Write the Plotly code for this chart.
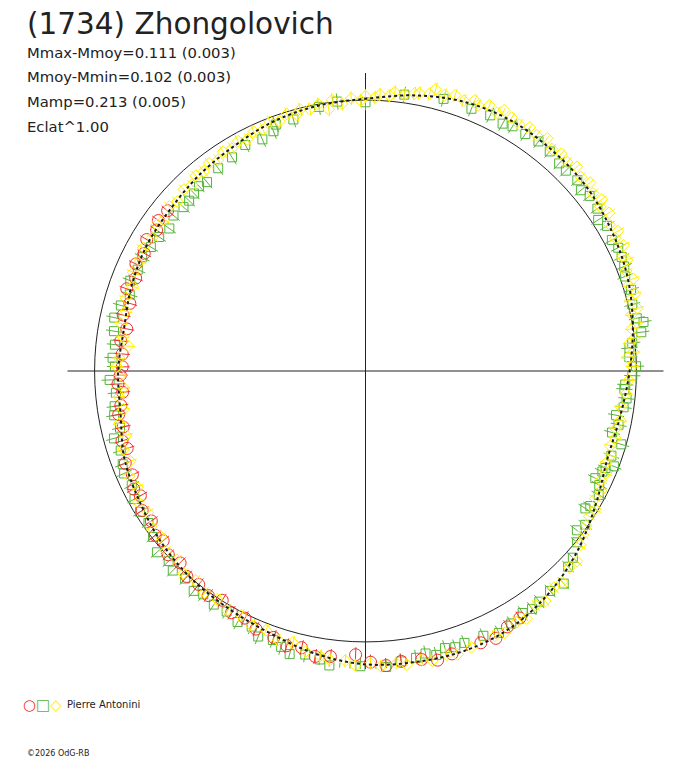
"""
Polar lightcurve of (1734) Zhongolovich, rebuilt with Plotly.
"""
import plotly.graph_objects as go

# page body has an 8px margin, so the figure is drawn inside it
PAD = 8
W, H = 688 - 2 * PAD, 768 - 2 * PAD

# fitted curve: phase angle (deg) and relative flux (1 = mean)
FIT_THETA = [0, 10, 20, 30, 40, 50, 60, 70, 80, 90, 100, 110, 120, 130, 140, 150, 160, 170,
             180, 190, 200, 210, 220, 230, 240, 250, 260, 270, 280, 290, 300, 310, 320, 330,
             340, 350, 360]
FIT_FLUX = [0.975, 1.002, 1.028, 1.046, 1.062, 1.067, 1.069, 1.058, 1.033, 1.005, 0.995, 0.982,
            0.962, 0.949, 0.936, 0.931, 0.919, 0.905, 0.913, 0.918, 0.947, 0.963, 0.984, 1.000,
            1.012, 1.030, 1.060, 1.083, 1.090, 1.096, 1.088, 1.062, 1.025, 0.982, 0.950, 0.955,
            0.975]

# session 1 (red circles)
RED_THETA = [141, 144, 146, 149, 152, 155, 158, 161, 164, 167, 170, 173, 176, 179,
             181, 183, 185, 188, 190, 193, 196, 198, 201, 204, 207, 209, 212, 215,
             218, 220, 223, 226, 229, 232, 235, 238, 241, 244, 247,
             251, 254, 257, 260, 263, 268, 271, 274, 277, 281, 284, 287, 290, 293, 296, 299, 302]
RED_FLUX = [0.940, 0.945, 0.930, 0.942, 0.925, 0.935, 0.915, 0.932, 0.905, 0.918, 0.895, 0.910, 0.900, 0.898,
            0.905, 0.915, 0.900, 0.912, 0.925, 0.918, 0.935, 0.925, 0.950, 0.942, 0.960, 0.950, 0.972, 0.965,
            0.985, 0.975, 0.995, 0.985, 1.005, 1.000, 1.012, 0.998, 1.020, 1.015, 1.035,
            1.040, 1.055, 1.048, 1.070, 1.062, 1.048, 1.075, 1.090, 1.080, 1.085, 1.100, 1.092, 1.105,
            1.090, 1.098, 1.080, 1.075]

# session 2 (green squares)
GREEN_THETA = [1, 3, 5, 6, 8, 10, 11, 14, 17, 20, 22, 24, 26, 28, 31, 33, 35, 38, 40, 42, 45, 47,
               50, 53, 56, 59, 61, 64, 68,
               74, 82, 90, 96, 100, 106, 110, 111, 114, 118, 122, 126,
               130, 132, 134, 136, 138, 141, 144, 147, 150, 153, 156, 159, 162, 165, 168, 171, 174,
               177, 179,
               182, 185, 188, 190, 193, 195, 198, 201, 203, 206, 209, 212, 215, 218, 221, 224, 226,
               229, 232, 234, 237, 240, 243, 246, 248,
               251, 253, 255, 258, 261, 263, 265, 267, 269, 272, 274, 277, 280, 282, 284, 286, 288,
               290, 294, 297, 300, 303, 305, 307, 310, 313, 316,
               318, 321, 323, 325, 328, 329, 332, 334, 335, 337, 338, 339, 341, 344, 346, 348, 350,
               352, 354, 356, 357, 359]
GREEN_FLUX = [0.999, 0.975, 0.978, 0.990, 1.028, 1.042, 1.020, 1.015, 1.025, 1.020, 1.030, 1.035,
              1.038, 1.030, 1.040, 1.024, 1.045, 1.050, 1.038, 1.052, 1.046, 1.048,
              1.058, 1.061, 1.055, 1.054, 1.044, 1.050, 1.044,
              1.045, 1.030, 0.992, 1.000, 0.990, 0.966, 0.968, 0.948, 0.936, 0.945, 0.930, 0.925,
              0.910, 0.918, 0.911, 0.905, 0.904, 0.912, 0.895, 0.908, 0.915, 0.925, 0.920, 0.930,
              0.915, 0.935, 0.948, 0.940, 0.930, 0.935, 0.925,
              0.945, 0.925, 0.935, 0.942, 0.930, 0.961, 0.950, 0.960, 0.968, 0.960, 0.975, 0.981,
              0.978, 0.995, 1.020, 1.010, 1.024, 1.015, 1.030, 1.019, 1.028, 1.025, 1.040, 1.033, 1.057,
              1.050, 1.065, 1.082, 1.070, 1.078, 1.095, 1.111, 1.102, 1.090, 1.114, 1.095, 1.080,
              1.075, 1.066, 1.080, 1.064, 1.072, 1.068, 1.070, 1.085, 1.076, 1.065, 1.072, 1.066,
              1.060, 1.073, 1.040,
              1.030, 1.005, 0.977, 0.990, 0.957, 0.968, 0.975, 0.960, 0.936, 0.950, 0.956, 0.982,
              0.960, 0.982, 0.938, 0.955, 0.939, 0.962, 0.969, 0.958, 0.960, 0.985]

# session 3 (yellow diamonds)
YELLOW_THETA = [1, 3, 4, 6, 7, 9, 10, 12, 13, 15, 16, 18, 19, 21, 23, 24, 26, 28, 29, 31, 33, 35,
                36, 38, 40, 42, 44, 46, 48, 50, 52, 54, 56, 58, 60,
                62, 63, 65, 67, 68, 70, 72, 74, 76, 77, 79, 80, 82, 84, 85, 87, 88, 90, 91, 93, 95,
                97, 98, 100, 102, 104, 105, 107, 109, 111, 113, 115, 117, 119, 121,
                123, 125, 127, 129, 131, 133, 135, 138, 140, 143, 145, 148, 151, 154, 157, 160, 163,
                166, 169, 172, 174, 177, 179,
                181, 184, 186, 189, 192, 195, 198, 201, 204, 207, 210, 213, 216, 219, 222, 225, 228,
                231, 234, 237, 240, 243, 246, 249,
                252, 255, 258, 261, 263, 266, 268, 271, 273, 276, 278, 281, 283, 286, 288, 291, 293,
                296, 298, 301, 303, 306, 308, 311, 313, 316, 318,
                321, 323, 325, 327, 329, 331, 333, 335, 337, 339, 341, 343, 345, 347, 349, 352, 355, 358]
YELLOW_FLUX = [0.985, 0.970, 0.992, 0.980, 1.000, 0.995, 1.015, 1.005, 1.030, 1.012, 1.035, 1.022,
               1.045, 1.030, 1.050, 1.038, 1.060, 1.045, 1.065, 1.050, 1.072, 1.058,
               1.078, 1.065, 1.082, 1.070, 1.085, 1.072, 1.080, 1.070, 1.090, 1.075, 1.085, 1.072, 1.080,
               1.090, 1.070, 1.082, 1.065, 1.078, 1.062, 1.070, 1.060, 1.072, 1.050, 1.045, 1.040,
               1.030, 1.035, 1.020, 1.022, 1.010, 1.015, 0.998, 1.008, 0.990,
               1.008, 0.975, 1.000, 0.988, 0.995, 0.980, 0.992, 0.975, 0.985, 0.968, 0.975, 0.960,
               0.970, 0.958,
               0.965, 0.950, 0.960, 0.948, 0.955, 0.940, 0.948, 0.935, 0.945, 0.930, 0.940, 0.928,
               0.938, 0.925, 0.932, 0.915, 0.925, 0.912, 0.920, 0.905, 0.880, 0.910, 0.918,
               0.905, 0.895, 0.915, 0.905, 0.928, 0.915, 0.940, 0.930, 0.955, 0.945, 0.968, 0.958,
               0.978, 0.972, 0.992, 0.985, 1.005, 0.995, 1.012, 1.005, 1.020, 1.012, 1.030, 1.025,
               1.045, 1.038, 1.058, 1.065, 1.075, 1.072, 1.088, 1.080, 1.092, 1.085, 1.095, 1.088,
               1.098, 1.090, 1.100, 1.092, 1.102, 1.088, 1.095, 1.082, 1.090, 1.070, 1.078, 1.060,
               1.065, 1.045, 1.050,
               1.020, 1.005, 0.995, 0.985, 0.990, 0.970, 0.975, 0.958, 0.965, 0.950, 0.958, 0.945,
               0.955, 0.948, 0.958, 0.952, 0.965, 0.972]

ERR_RED = 0.028
ERR_GREEN = 0.03
ERR_YELLOW = 0.025

TITLE = '(1734) Zhongolovich'
STATS = ['Mmax-Mmoy=0.111 (0.003)', 'Mmoy-Mmin=0.102 (0.003)',
         'Mamp=0.213 (0.005)', 'Eclat^1.00']
OBSERVER = 'Pierre Antonini'
CREDIT = '©2026 OdG-RB'

RED, GREEN, YELLOW = '#f03030', '#55b43c', '#ffee00'
FONT = 'DejaVu Sans'


def _paper(x, y):
    # window pixels -> paper fraction
    return (x - PAD) / W, 1 - (y - PAD) / H


def _err_segments(theta, flux, err):
    t, r = [], []
    for a, f in zip(theta, flux):
        t += [a, a, None]
        r += [f - err, f + err, None]
    return t, r


def _series(theta, flux, err, color, symbol, size):
    et, er = _err_segments(theta, flux, err)
    bars = go.Scatterpolar(theta=et, r=er, mode='lines', line=dict(color=color, width=1),
                           showlegend=False, hoverinfo='skip')
    pts = go.Scatterpolar(theta=theta, r=flux, mode='markers', showlegend=False,
                          marker=dict(symbol=symbol, size=size, color=color,
                                      line=dict(color=color, width=1)))
    return [bars, pts]


def _text(x, y, text, size, color='#222', yanchor='middle'):
    px, py = _paper(x, y)
    return dict(x=px, y=py, xref='paper', yref='paper', xanchor='left', yanchor=yanchor,
                text=text, showarrow=False, font=dict(family=FONT, size=size, color=color))


fig = go.Figure()
for trace in (_series(GREEN_THETA, GREEN_FLUX, ERR_GREEN, GREEN, 'square-open', 9)
              + _series(RED_THETA, RED_FLUX, ERR_RED, RED, 'circle-open', 12)
              + _series(YELLOW_THETA, YELLOW_FLUX, ERR_YELLOW, YELLOW, 'diamond-open', 9)):
    fig.add_trace(trace)

fig.add_trace(go.Scatterpolar(
    theta=FIT_THETA, r=FIT_FLUX, mode='lines', showlegend=False,
    line=dict(color='#1a1a1a', width=2, dash='dot', shape='spline'),
))

annotations = [_text(25, 23.5, TITLE, 29.5)]
for i, line in enumerate(STATS):
    annotations.append(_text(25, 52 + 24.7 * i, line, 14.8))
legend_keys = (f"<span style='color:{RED}'>○</span><span style='color:{GREEN}'>□</span>"
               f"<span style='color:{YELLOW}'>◇</span>")
annotations.append(_text(21, 704.5, legend_keys, 15))
annotations.append(_text(65, 704.5, OBSERVER, 10))
# figure ends at 760px, keep the credit line inside it
annotations.append(_text(25, 760, CREDIT, 8, yanchor='bottom'))

x0, y0 = _paper(67, 669)
x1, y1 = _paper(664, 73)
fig.update_layout(
    width=W, height=H,
    margin=dict(l=0, r=0, t=0, b=0),
    paper_bgcolor='white', plot_bgcolor='white',
    showlegend=False,
    annotations=annotations,
    polar=dict(
        domain=dict(x=[x0, x1], y=[y0, y1]),
        bgcolor='white',
        radialaxis=dict(range=[0, 1.1], tickvals=[1], showticklabels=False, ticks='',
                        showline=False, showgrid=True, gridcolor='#222', gridwidth=1),
        angularaxis=dict(tickvals=[0, 90, 180, 270], showticklabels=False, ticks='',
                         showline=False, showgrid=True, gridcolor='#222', gridwidth=1,
                         rotation=0, direction='counterclockwise'),
    ),
)

fig.write_html('out.html', config={'displayModeBar': False})
